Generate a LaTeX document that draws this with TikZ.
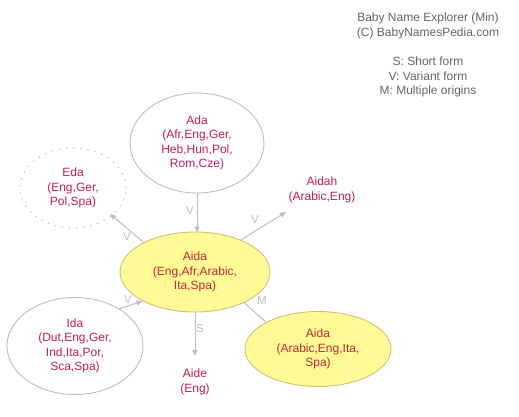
\documentclass[tikz,border=0pt]{standalone}
\usepackage{fontspec}
\setmainfont{Liberation Sans}
\usetikzlibrary{arrows.meta,shapes.geometric}
\definecolor{nametxt}{RGB}{196,30,80}
\definecolor{yeltxt}{RGB}{196,40,50}
\definecolor{yelfill}{RGB}{255,250,150}
\definecolor{yeldraw}{RGB}{200,195,120}
\definecolor{edgegray}{RGB}{190,190,190}
\definecolor{infotxt}{RGB}{100,100,100}
\tikzset{
  x=1pt,y=-1pt,
  every node/.style={font=\fontsize{12}{14.5}\selectfont,align=center,inner sep=0pt},
  plainell/.style={draw=edgegray,line width=0.9pt,ellipse,text=nametxt},
  dotell/.style={draw=edgegray,line width=1.2pt,dash pattern=on 1.2pt off 6pt,ellipse,text=nametxt},
  yelell/.style={draw=yeldraw,fill=yelfill,line width=0.9pt,ellipse,text=yeltxt},
  freename/.style={text=nametxt},
  rel/.style={draw=edgegray,line width=1pt,-{Triangle[length=6pt,width=5pt]}},
  relplain/.style={draw=edgegray,line width=1pt},
  rlabel/.style={text=edgegray,font=\fontsize{11.5}{13}\selectfont},
  info/.style={text=infotxt,font=\fontsize{12}{14.5}\selectfont}
}
\begin{document}
\begin{tikzpicture}
\useasboundingbox (0,0) rectangle (519,417);
% nodes
\node[plainell,minimum width=134pt,minimum height=100pt] (ada) at (197,143) {Ada\\(Afr,Eng,Ger,\\Heb,Hun,Pol,\\Rom,Cze)};
\node[dotell,minimum width=106pt,minimum height=80pt] (eda) at (73,188) {Eda\\(Eng,Ger,\\Pol,Spa)};
\node[freename] (aidah) at (322,190) {Aidah\\(Arabic,Eng)};
\node[yelell,minimum width=150pt,minimum height=80pt] (aida) at (195,272) {Aida\\(Eng,Afr,Arabic,\\Ita,Spa)};
\node[plainell,minimum width=136pt,minimum height=97pt] (ida) at (75,346) {Ida\\(Dut,Eng,Ger,\\Ind,Ita,Por,\\Sca,Spa)};
\node[freename] (aide) at (195,382) {Aide\\(Eng)};
\node[yelell,minimum width=146pt,minimum height=75pt] (aida2) at (318,349) {Aida\\(Arabic,Eng,Ita,\\Spa)};
% info
\node[info] (title) at (428,26) {Baby Name Explorer (Min)\\(C) BabyNamesPedia.com};
\node[info] (legend) at (428,77) {S: Short form\\V: Variant form\\M: Multiple origins};
% edges
\coordinate (edaend) at (110,214);
\coordinate (aidahend) at (286,212);
\coordinate (aideend) at (195,356);
\coordinate (adain) at (197,232.5);
\draw[rel] (ada.south) -- (adain);
\draw[rel] (aida.150) -- (edaend);
\draw[rel] (aida.35) -- (aidahend);
\draw[rel] (ida.40) -- (aida.209);
\draw[rel] (aida.south) -- (aideend);
\draw[relplain] (aida.-32) -- (aida2.north west);
% edge labels
\node[rlabel] (l1) at (190,211) {V};
\node[rlabel] (l2) at (127,237) {V};
\node[rlabel] (l3) at (255,220) {V};
\node[rlabel] (l4) at (128,300) {V};
\node[rlabel] (l5) at (200,329) {S};
\node[rlabel] (l6) at (262,301) {M};
\end{tikzpicture}
\end{document}
